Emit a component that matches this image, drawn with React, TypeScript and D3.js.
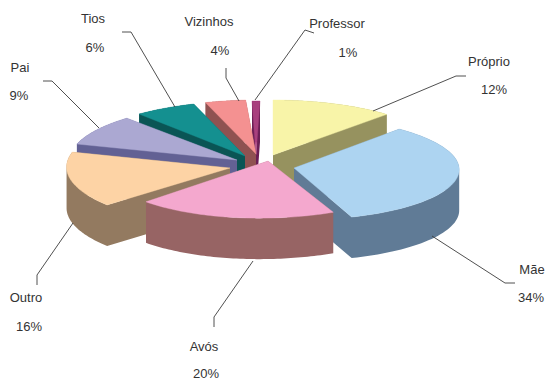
import React from "react";
import * as d3 from "d3";

const categories = ["Próprio", "Mãe", "Avós", "Outro", "Pai", "Tios", "Vizinhos", "Professor"];
const values = [12, 34, 20, 16, 9, 6, 4, 1];
const topColors = ["#F8F4A8", "#ADD4F1", "#F4A8CE", "#FDD3A5", "#ABA8D2", "#149090", "#F49191", "#A8407E"];
const wallColors = ["#96925F", "#607B96", "#976464", "#937A60", "#626194", "#0A5555", "#8F5251", "#6A1E55"];

// Screen placement of each exploded slice: centre + affine map of the unit disc
const sliceFrames = [
  { cx: 273, cy: 155, a: 169, b: 0, c: 0, d: 55 },
  { cx: 294, cy: 168, a: 165, b: 8, c: -1, d: 51.8 },
  { cx: 268, cy: 161, a: 165, b: 16, c: -8.5, d: 56.5 },
  { cx: 230, cy: 168, a: 163, b: 12, c: -3.2, d: 57 },
  { cx: 237, cy: 160, a: 167.5, b: 6.5, c: -2.8, d: 56 },
  { cx: 245, cy: 156, a: 169, b: 0, c: -1.4, d: 55 },
  { cx: 256, cy: 154, a: 167, b: 0, c: 0, d: 54 },
  { cx: 256, cy: 155, a: 130, b: -4, c: 0, d: 54 },
];
const paintOrder = [7, 6, 5, 4, 3, 0, 1, 2];
const DEPTH = 41;

const labelPlaces = [
  { name: [489, 66], pct: [494, 94] },
  { name: [532, 274], pct: [531, 302] },
  { name: [204, 351], pct: [206, 378] },
  { name: [26, 302], pct: [29, 331] },
  { name: [20, 72], pct: [19, 100] },
  { name: [93, 23], pct: [95, 52] },
  { name: [209, 26], pct: [220, 55] },
  { name: [337, 28], pct: [348, 57] },
];
const leaders: [number, number][][] = [
  [[466, 76], [456, 76], [373, 111]],
  [[515, 283], [505, 283], [432, 236]],
  [[214, 327], [214, 317], [253, 261]],
  [[37, 285], [37, 275], [73, 223]],
  [[43, 81], [52, 81], [99, 128]],
  [[122, 32], [131, 32], [175, 107]],
  [[226, 68], [226, 78], [239, 101]],
  [[314, 33], [305, 30], [255, 100]],
];

const arcs = d3.pie<number>().sort(null).value((v) => v)(values);
const line = d3.line<[number, number]>();

type Frame = (typeof sliceFrames)[number];
type Pt = [number, number];
const project = (f: Frame, t: number): Pt => {
  const u = Math.sin(t);
  const v = -Math.cos(t);
  return [f.cx + f.a * u + f.b * v, f.cy + f.c * u + f.d * v];
};
const down = (p: Pt): Pt => [p[0], p[1] + DEPTH];
// every quad wound the same way, so a single nonzero-filled path has no seams
const wound = (q: Pt[]): Pt[] => (d3.polygonArea(q) < 0 ? q.slice().reverse() : q);

export default function App() {
  return (
    <svg
      width={547}
      height={380}
      style={{ position: "absolute", left: 0, top: 0, background: "#fff" }}
      fontFamily="'Liberation Sans', Arial, sans-serif"
    >
      {paintOrder.map((i) => {
        const f = sliceFrames[i];
        const arc = arcs[i];
        const steps = d3.range(0, 61).map((k) => arc.startAngle + ((arc.endAngle - arc.startAngle) * k) / 60);
        const rim = steps.map((t) => project(f, t));
        const apex: Pt = [f.cx, f.cy];
        const top = [apex, ...rim];
        const first = rim[0];
        const last = rim[rim.length - 1];
        const quads: Pt[][] = [
          [apex, first, down(first), down(apex)],
          [apex, last, down(last), down(apex)],
          ...rim.slice(1).map((p, k) => [rim[k], p, down(p), down(rim[k])]),
        ];
        const wallPath = quads.map((q) => line(wound(q)) + "Z").join("");
        return (
          <g key={categories[i]}>
            <path d={wallPath} fill={wallColors[i]} fillRule="nonzero" />
            <path d={line(top) + "Z"} fill={topColors[i]} stroke={topColors[i]} strokeWidth={0.4} />
          </g>
        );
      })}
      {leaders.map((l, i) => (
        <path key={i} d={line(l) ?? ""} fill="none" stroke="#3c3c3c" strokeWidth={0.9} />
      ))}
      {categories.map((c, i) => (
        <g key={c} fontSize={13} fill="#333" textAnchor="middle">
          <text x={labelPlaces[i].name[0]} y={labelPlaces[i].name[1]}>{c}</text>
          <text x={labelPlaces[i].pct[0]} y={labelPlaces[i].pct[1]}>{values[i]}%</text>
        </g>
      ))}
    </svg>
  );
}
